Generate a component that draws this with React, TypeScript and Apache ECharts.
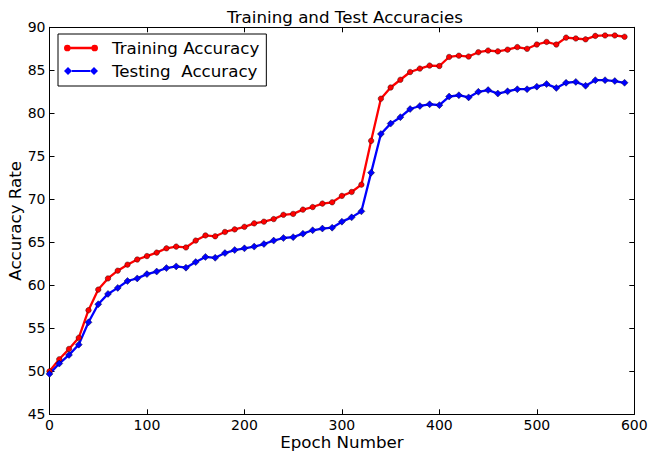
import React, { useEffect, useRef } from "react";
import * as echarts from "echarts";

const epochs = [
  0, 10, 20, 30, 40, 50, 60, 70, 80, 90,
  100, 110, 120, 130, 140, 150, 160, 170, 180, 190,
  200, 210, 220, 230, 240, 250, 260, 270, 280, 290,
  300, 310, 320, 330, 340, 350, 360, 370, 380, 390,
  400, 410, 420, 430, 440, 450, 460, 470, 480, 490,
  500, 510, 520, 530, 540, 550, 560, 570, 580, 590,
];

const trainingAccuracy = [
  50.0, 51.4, 52.6, 53.9, 57.1, 59.5, 60.8, 61.7, 62.4, 63.0,
  63.4, 63.8, 64.3, 64.5, 64.4, 65.2, 65.8, 65.7, 66.2, 66.5,
  66.8, 67.2, 67.4, 67.7, 68.2, 68.3, 68.8, 69.1, 69.5, 69.65,
  70.4, 70.85, 71.7, 76.8, 81.7, 83.0, 83.9, 84.8, 85.2, 85.55,
  85.5, 86.55, 86.7, 86.6, 87.1, 87.3, 87.2, 87.4, 87.7, 87.5,
  88.0, 88.3, 88.0, 88.8, 88.7, 88.6, 89.0, 89.05, 89.05, 88.9,
];

const testingAccuracy = [
  49.7, 50.9, 51.9, 53.1, 55.7, 57.8, 59.0, 59.7, 60.5, 60.8,
  61.3, 61.6, 62.0, 62.2, 62.05, 62.7, 63.3, 63.2, 63.75, 64.1,
  64.3, 64.5, 64.8, 65.2, 65.5, 65.6, 66.0, 66.4, 66.6, 66.7,
  67.4, 67.9, 68.6, 73.1, 77.6, 78.8, 79.55, 80.5, 80.85, 81.05,
  80.95, 81.95, 82.1, 81.85, 82.5, 82.7, 82.3, 82.55, 82.8, 82.8,
  83.1, 83.4, 82.95, 83.55, 83.65, 83.2, 83.85, 83.85, 83.75, 83.55,
];

const seriesNames = ["Training Accuracy", "Testing  Accuracy"];
const titleText = "Training and Test Accuracies";
const xName = "Epoch Number";
const yName = "Accuracy Rate";

const FONT = "DejaVu Sans";
const BIG = 16.7;
const TICK = 14;

const circleIcon =
  "path://M4,5m-3.2,0a3.2,3.2 0 1,0 6.4,0a3.2,3.2 0 1,0 -6.4,0Z" +
  "M30,5m-3.2,0a3.2,3.2 0 1,0 6.4,0a3.2,3.2 0 1,0 -6.4,0Z" +
  "M7.1,3.9L26.9,3.9L26.9,6.1L7.1,6.1Z";
const diamondIcon =
  "path://M4,1L8,5L4,9L0,5Z M30,1L34,5L30,9L26,5Z M7.9,3.9L26.1,3.9L26.1,6.1L7.9,6.1Z";

export default function App() {
  const ref = useRef<HTMLDivElement>(null);

  useEffect(() => {
    document.body.style.margin = "0";
    if (!ref.current) return;
    const chart = echarts.init(ref.current, null, { renderer: "svg" });

    const axisCommon = {
      axisLine: { show: true, onZero: false, lineStyle: { color: "#000", width: 1 } },
      axisTick: { show: true, inside: true, length: 5, lineStyle: { color: "#000", width: 1 } },
      splitLine: { show: false },
    };

    chart.setOption({
      animation: false,
      backgroundColor: "#fff",
      textStyle: { fontFamily: FONT },
      title: {
        text: titleText,
        left: 222,
        top: 3,
        textStyle: { fontFamily: FONT, fontSize: BIG, fontWeight: "normal", color: "#000" },
      },
      grid: {
        left: 49.5,
        right: 13.7,
        top: 27.3,
        bottom: 36.7,
        containLabel: false,
        outerBoundsMode: "none",
      },
      legend: {
        orient: "vertical",
        left: 58,
        top: 34,
        padding: [5, 7, 6, 6],
        itemGap: 5,
        itemWidth: 34,
        itemHeight: 8,
        borderColor: "#000",
        borderWidth: 1,
        borderRadius: 0,
        backgroundColor: "#fff",
        itemStyle: { borderWidth: 0 },
        textStyle: {
          fontFamily: FONT,
          fontSize: BIG,
          color: "#000",
          lineHeight: 18,
          padding: [0, 0, 0, 9],
        },
        data: [
          { name: seriesNames[0], icon: circleIcon },
          { name: seriesNames[1], icon: diamondIcon },
        ],
      },
      xAxis: [
        {
          type: "value",
          min: 0,
          max: 600,
          interval: 100,
          position: "bottom",
          name: xName,
          nameLocation: "middle",
          nameGap: 19,
          nameMoveOverlap: false,
          nameTextStyle: { fontFamily: FONT, fontSize: BIG, color: "#000" },
          axisLabel: { fontFamily: FONT, fontSize: TICK, color: "#000", margin: 4 },
          ...axisCommon,
        },
        {
          type: "value",
          min: 0,
          max: 600,
          interval: 100,
          position: "top",
          axisLabel: { show: false },
          ...axisCommon,
        },
      ],
      yAxis: [
        {
          type: "value",
          min: 45,
          max: 90,
          interval: 5,
          position: "left",
          name: yName,
          nameLocation: "middle",
          nameGap: 26.5,
          nameMoveOverlap: false,
          nameTextStyle: { fontFamily: FONT, fontSize: BIG, color: "#000" },
          axisLabel: { fontFamily: FONT, fontSize: TICK, color: "#000", margin: 4 },
          ...axisCommon,
        },
        {
          type: "value",
          min: 45,
          max: 90,
          interval: 5,
          position: "right",
          axisLabel: { show: false },
          ...axisCommon,
        },
      ],
      series: [
        {
          name: seriesNames[0],
          type: "line",
          xAxisIndex: 0,
          yAxisIndex: 0,
          data: epochs.map((e, i) => [e, trainingAccuracy[i]]),
          symbol: "circle",
          symbolSize: 5.5,
          showSymbol: true,
          lineStyle: { color: "#ff0000", width: 2.3 },
          itemStyle: { color: "#ff0000", borderColor: "#000", borderWidth: 0.4 },
          emphasis: { disabled: true },
        },
        {
          name: seriesNames[1],
          type: "line",
          xAxisIndex: 0,
          yAxisIndex: 0,
          data: epochs.map((e, i) => [e, testingAccuracy[i]]),
          symbol: "diamond",
          symbolSize: 7,
          showSymbol: true,
          lineStyle: { color: "#0000ff", width: 2.3 },
          itemStyle: { color: "#0000ff", borderColor: "#000", borderWidth: 0.4 },
          emphasis: { disabled: true },
        },
      ],
    });

    return () => {
      chart.dispose();
    };
  }, []);

  return <div ref={ref} style={{ width: 648, height: 451 }} />;
}
